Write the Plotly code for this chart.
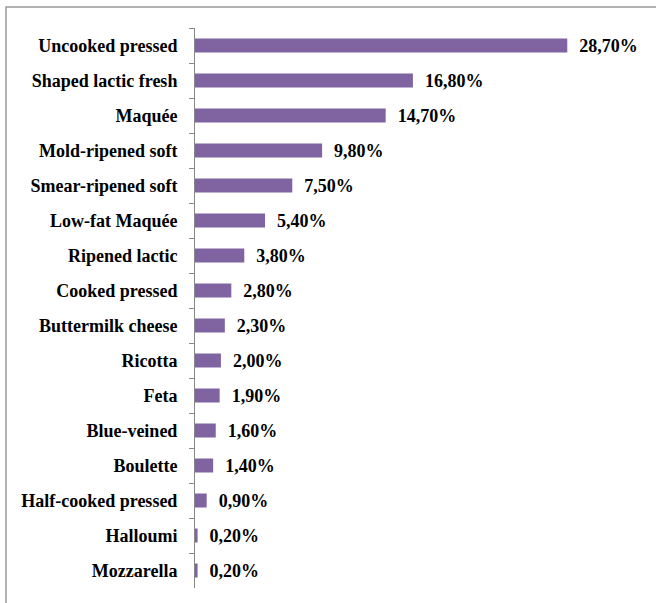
import plotly.graph_objects as go

# Cheese categories and their share (%)
categories = [
    "Uncooked pressed", "Shaped lactic fresh", "Maquée", "Mold-ripened soft",
    "Smear-ripened soft", "Low-fat Maquée", "Ripened lactic", "Cooked pressed",
    "Buttermilk cheese", "Ricotta", "Feta", "Blue-veined", "Boulette",
    "Half-cooked pressed", "Halloumi", "Mozzarella",
]
shares = [28.7, 16.8, 14.7, 9.8, 7.5, 5.4, 3.8, 2.8, 2.3, 2.0, 1.9, 1.6, 1.4, 0.9, 0.2, 0.2]

serif = "Liberation Serif, Times New Roman, serif"

fig = go.Figure(
    go.Bar(
        x=shares,
        y=categories,
        orientation="h",
        marker=dict(color="#8064A2", line=dict(width=0)),
        texttemplate="\u00a0\u00a0<b>%{x:.2f}%</b>",
        textposition="outside",
        constraintext="none",
        textfont=dict(family=serif, size=18, color="black"),
        cliponaxis=False,
    )
)

fig.update_layout(
    width=656,
    height=603,
    separators=", ",
    paper_bgcolor="white",
    plot_bgcolor="white",
    margin=dict(l=195, r=7, t=28, b=15),
    bargap=0.6,
    showlegend=False,
    shapes=[
        dict(
            type="rect", xref="paper", yref="paper",
            x0=-0.4163, x1=1.2, y0=-0.2, y1=1.0375,
            line=dict(color="#9a9a9a", width=1.5),
            fillcolor="rgba(0,0,0,0)",
        )
    ],
)

fig.update_xaxes(range=[0, 35], visible=False)
fig.update_yaxes(
    autorange="reversed",
    showline=True,
    linecolor="#888888",
    linewidth=1,
    ticks="outside",
    tickson="boundaries",
    ticklen=5,
    tickcolor="#888888",
    showgrid=False,
    tickfont=dict(family=serif, size=18, color="black", weight="bold"),
    ticklabelstandoff=13,
)

fig.write_html("out.html")
